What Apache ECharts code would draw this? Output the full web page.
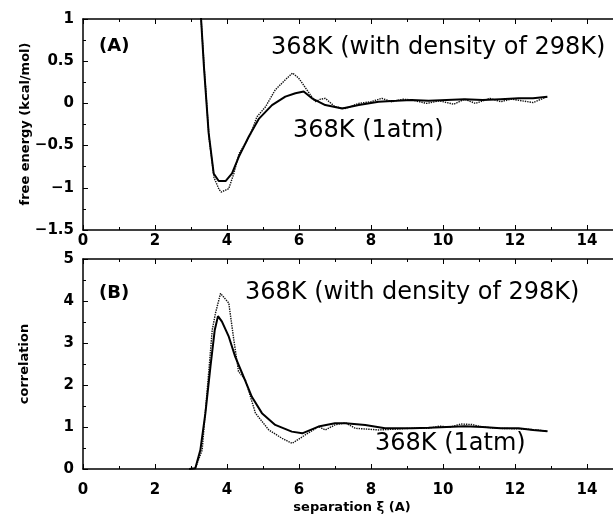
<!DOCTYPE html>
<html>
<head>
<meta charset="utf-8">
<script src="https://cdn.jsdelivr.net/npm/echarts@6/dist/echarts.min.js"></script>
<style>html,body{margin:0;padding:0;background:#fff}#c{width:613px;height:516px}</style>
</head>
<body>
<div id="c"></div>
<script>
// Panel A: free energy (kcal/mol) vs separation
var feSolidX = [3.22, 3.28, 3.36, 3.49, 3.63, 3.77, 3.82, 3.96, 4.14, 4.33, 4.61, 4.89, 5.25, 5.62, 5.90, 6.13, 6.36, 6.73, 7.20, 7.66, 8.21, 8.70, 9.13, 9.60, 10.1, 10.6, 11.1, 11.6, 12.1, 12.5, 12.9];
var feSolidY = [1.6, 1.0, 0.43, -0.35, -0.83, -0.92, -0.93, -0.92, -0.83, -0.63, -0.39, -0.18, -0.02, 0.08, 0.12, 0.14, 0.06, -0.02, -0.06, -0.02, 0.02, 0.03, 0.04, 0.03, 0.04, 0.05, 0.04, 0.05, 0.06, 0.06, 0.08];
var feDotX = [3.22, 3.28, 3.37, 3.50, 3.64, 3.78, 3.84, 4.05, 4.19, 4.33, 4.50, 4.65, 4.83, 5.07, 5.34, 5.62, 5.82, 5.99, 6.22, 6.45, 6.60, 6.73, 7.0, 7.29, 7.66, 8.0, 8.30, 8.58, 8.9, 9.13, 9.55, 9.9, 10.3, 10.6, 10.9, 11.3, 11.6, 11.9, 12.2, 12.5, 12.9];
var feDotY = [1.6, 1.0, 0.40, -0.40, -0.88, -1.02, -1.05, -1.01, -0.83, -0.60, -0.48, -0.37, -0.16, -0.04, 0.16, 0.28, 0.36, 0.30, 0.16, 0.02, 0.05, 0.06, -0.04, -0.06, 0.0, 0.02, 0.06, 0.02, 0.05, 0.04, 0.0, 0.03, -0.01, 0.05, 0.0, 0.06, 0.02, 0.05, 0.03, 0.01, 0.08];

// Panel B: correlation vs separation
var corSolidX = [2.95, 3.12, 3.26, 3.40, 3.54, 3.66, 3.75, 3.86, 4.05, 4.23, 4.42, 4.69, 4.97, 5.34, 5.80, 6.09, 6.54, 7.0, 7.29, 7.84, 8.39, 9.13, 9.6, 10.1, 10.6, 11.1, 11.6, 12.1, 12.5, 12.9];
var corSolidY = [0, 0.02, 0.45, 1.33, 2.44, 3.31, 3.64, 3.51, 3.15, 2.67, 2.28, 1.72, 1.33, 1.05, 0.89, 0.85, 1.01, 1.09, 1.09, 1.05, 0.97, 0.97, 0.98, 1.0, 1.02, 1.0, 0.97, 0.97, 0.93, 0.90];
var corDotX = [2.95, 3.12, 3.31, 3.45, 3.59, 3.68, 3.82, 4.05, 4.19, 4.32, 4.51, 4.79, 5.16, 5.53, 5.81, 6.17, 6.54, 6.73, 7.0, 7.29, 7.56, 8.21, 8.7, 9.13, 9.6, 9.9, 10.2, 10.5, 10.8, 11.1, 11.5, 11.9, 12.3, 12.6, 12.9];
var corDotY = [0, 0.02, 0.45, 1.88, 3.31, 3.71, 4.18, 3.95, 3.07, 2.32, 2.12, 1.33, 0.93, 0.73, 0.61, 0.81, 1.01, 0.93, 1.05, 1.10, 0.97, 0.93, 0.95, 0.97, 0.97, 1.02, 1.0, 1.07, 1.06, 1.0, 0.97, 0.96, 0.95, 0.93, 0.90];

var xTicks = {min: 0, max: 16, interval: 2};
var feTicks = {min: -1.5, max: 1, interval: 0.5};
var corTicks = {min: 0, max: 5, interval: 1};

var labelsText = {
  yA: 'free energy (kcal/mol)',
  yB: 'correlation',
  x: 'separation \u03be (A)',
  panelA: '(A)',
  panelB: '(B)',
  dens: '368K (with density of 298K)',
  atm: '368K (1atm)'
};

function zip(xs, ys) { return xs.map(function (x, i) { return [x, ys[i]]; }); }

var tickFont = {fontFamily: 'DejaVu Sans', fontWeight: 'bold', fontSize: 15, color: '#000'};
var axLine = {show: true, lineStyle: {color: '#000', width: 1.5}};

function xAx(grid, pos, showLabel, margin) {
  return {
    type: 'value', gridIndex: grid, position: pos,
    min: xTicks.min, max: xTicks.max, interval: xTicks.interval,
    axisLine: Object.assign({onZero: false}, axLine),
    axisTick: {show: true, inside: true, length: 5, lineStyle: {color: '#000', width: 1}},
    minorTick: {show: true, splitNumber: 2, length: 3, lineStyle: {color: '#000', width: 1}},
    axisLabel: Object.assign({show: showLabel, margin: margin}, tickFont),
    splitLine: {show: false}
  };
}
function yAx(grid, t) {
  return {
    type: 'value', gridIndex: grid, position: 'left',
    min: t.min, max: t.max, interval: t.interval,
    axisLine: Object.assign({onZero: false}, axLine),
    axisTick: {show: true, inside: true, length: 5, lineStyle: {color: '#000', width: 1}},
    minorTick: {show: true, splitNumber: 2, length: 3, lineStyle: {color: '#000', width: 1}},
    axisLabel: Object.assign({margin: 9, formatter: function (v) { return String(v).replace('-', '\u2212'); }}, tickFont),
    splitLine: {show: false}
  };
}

var solidStyle = {color: '#000', width: 2};
var dotStyle = {color: '#111', width: 1.4, type: [1.4, 1.0]};

function txt(text, x, y, size, weight, align, rot) {
  return {
    type: 'text', x: x, y: y, rotation: rot || 0,
    style: {text: text, fontFamily: 'DejaVu Sans', fontSize: size, fontWeight: weight, fill: '#000',
            textAlign: align, textVerticalAlign: 'middle'}
  };
}

var chart = echarts.init(document.getElementById('c'), null, {renderer: 'canvas'});
chart.setOption({
  backgroundColor: '#fff',
  animation: false,
  grid: [
    {left: 83, top: 19, width: 576, height: 211, containLabel: false, outerBoundsMode: 'none'},
    {left: 83, top: 259, width: 576, height: 210, containLabel: false, outerBoundsMode: 'none'}
  ],
  xAxis: [xAx(0, 'bottom', true, 4), xAx(0, 'top', false, 4), xAx(1, 'bottom', true, 14), xAx(1, 'top', false, 4)],
  yAxis: [yAx(0, feTicks), yAx(1, corTicks)],
  series: [
    {type: 'line', xAxisIndex: 0, yAxisIndex: 0, data: zip(feDotX, feDotY), showSymbol: false, symbol: 'none', lineStyle: dotStyle},
    {type: 'line', xAxisIndex: 0, yAxisIndex: 0, data: zip(feSolidX, feSolidY), showSymbol: false, symbol: 'none', lineStyle: solidStyle},
    {type: 'line', xAxisIndex: 2, yAxisIndex: 1, data: zip(corDotX, corDotY), showSymbol: false, symbol: 'none', lineStyle: dotStyle},
    {type: 'line', xAxisIndex: 2, yAxisIndex: 1, data: zip(corSolidX, corSolidY), showSymbol: false, symbol: 'none', lineStyle: solidStyle}
  ],
  graphic: [
    txt(labelsText.yA, 26, 124, 13, 'bold', 'center', Math.PI / 2),
    txt(labelsText.yB, 25, 364, 13, 'bold', 'center', Math.PI / 2),
    txt(labelsText.x, 352, 508, 13, 'bold', 'center'),
    txt(labelsText.panelA, 99, 46, 18, 'bold', 'left'),
    txt(labelsText.panelB, 99, 293, 18, 'bold', 'left'),
    txt(labelsText.dens, 271, 48, 24, 'normal', 'left'),
    txt(labelsText.atm, 293, 131, 24, 'normal', 'left'),
    txt(labelsText.dens, 245, 293, 24, 'normal', 'left'),
    txt(labelsText.atm, 375, 444, 24, 'normal', 'left')
  ]
});
</script>
</body>
</html>
